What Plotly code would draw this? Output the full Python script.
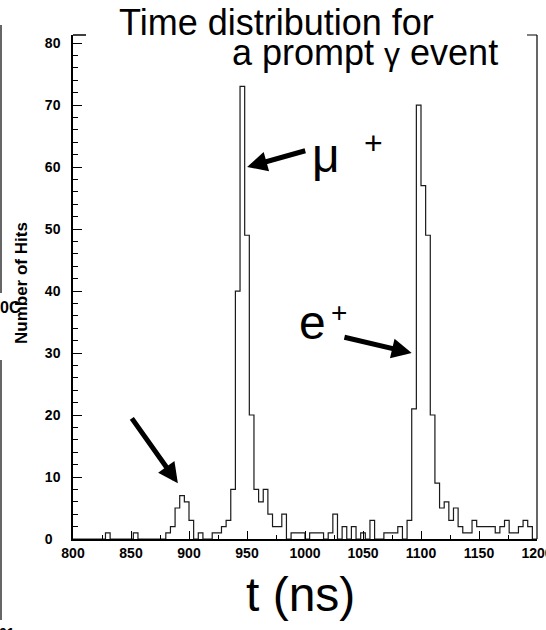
import plotly.graph_objects as go

# ---- data: histogram of hit times (4 ns bins, 800-1200 ns) ----
bin_lo = list(range(800, 1200, 4))
counts = [
    0, 0, 0, 0, 0, 0, 0, 1, 0, 0,      # 800-836
    0, 0, 0, 1, 0, 0, 0, 0, 0, 0,      # 840-876
    1, 2, 5, 7, 6, 3, 0, 1, 0, 0,      # 880-916
    1, 1, 2, 3, 8, 40, 73, 49, 20, 8,  # 920-956
    6, 8, 4, 2, 2, 4, 0, 1, 1, 1,      # 960-996
    0, 1, 1, 1, 0, 1, 4, 0, 2, 0,      # 1000-1036
    2, 0, 1, 0, 3, 0, 0, 1, 1, 1,      # 1040-1076
    2, 0, 3, 21, 70, 57, 49, 20, 9, 5, # 1080-1116
    6, 3, 5, 2, 1, 1, 3, 2, 2, 2,      # 1120-1156
    2, 1, 2, 3, 1, 1, 2, 3, 2, 0,      # 1160-1196
]
x_ticks = list(range(800, 1201, 50))
x_ticktext = [str(v) for v in x_ticks]
y_ticks = list(range(0, 81, 10))
y_ticktext = ["0\u2007"] + [str(v) for v in y_ticks[1:]]

edges = bin_lo + [1200]
step_y = counts + [counts[-1]]

FONT = "Liberation Sans, Arial, Helvetica, sans-serif"

fig = go.Figure()
fig.add_trace(go.Scatter(
    x=edges, y=step_y, mode="lines", line=dict(shape="hv", color="#1a1a1a", width=1.2),
    hoverinfo="skip"))

L, R, T, B = 73, 9, 35, 91
W, H = 546, 630
PW, PH = W - L - R, H - T - B


def px(x):
    return (x - L) / PW


def py(y):
    return (H - B - y) / PH


fig.update_layout(
    width=W, height=H, margin=dict(l=L, r=R, t=T, b=B, pad=0, autoexpand=False),
    plot_bgcolor="white", paper_bgcolor="white", showlegend=False,
    xaxis=dict(range=[800, 1200], tickvals=x_ticks, ticktext=x_ticktext, automargin=False,
               ticks="inside", ticklen=8, tickwidth=1, tickcolor="black",
               showline=True, linewidth=2, linecolor="black", showgrid=False, zeroline=False,
               ticklabeloverflow="allow",
               tickfont=dict(family=FONT, size=14, color="black", weight="bold"),
               minor=dict(dtick=25, tick0=800, ticks="inside", ticklen=4, tickcolor="black",
                          showgrid=False)),
    yaxis=dict(range=[0, 81.3], tickvals=y_ticks, ticktext=y_ticktext, automargin=False,
               ticks="inside", ticklen=9, tickwidth=1, tickcolor="black",
               showline=True, linewidth=1.5, linecolor="black", showgrid=False, zeroline=False,
               ticklabelstandoff=8,
               tickfont=dict(family=FONT, size=14, color="black", weight="bold"),
               minor=dict(dtick=2, ticks="inside", ticklen=5, tickcolor="black", showgrid=False)),
)

shapes = [
    # right frame line and small top brackets
    dict(type="line", xref="paper", yref="paper", x0=1, x1=1, y0=0, y1=1,
         line=dict(color="black", width=1.2)),
    dict(type="line", xref="paper", yref="paper", x0=px(527), x1=1, y0=1, y1=1,
         line=dict(color="black", width=1)),
    dict(type="line", xref="paper", yref="paper", x0=0, x1=px(86), y0=1, y1=1,
         line=dict(color="black", width=1.5)),
    # remnants at the far left edge
    dict(type="line", xref="paper", yref="paper", x0=px(1), x1=px(1), y0=py(25), y1=py(293),
         line=dict(color="#333", width=1.5)),
    dict(type="line", xref="paper", yref="paper", x0=px(1), x1=px(1), y0=py(360), y1=py(620),
         line=dict(color="#333", width=1.5)),
]
fig.update_layout(shapes=shapes)

ann = []
# title
ann.append(dict(xref="paper", yref="paper", x=px(117), y=py(22), xanchor="left", yanchor="middle",
                text="Time distribution for", showarrow=False,
                font=dict(family=FONT, size=36, color="black")))
ann.append(dict(xref="paper", yref="paper", x=px(230), y=py(53), xanchor="left", yanchor="middle",
                text="a prompt <span style='font-size:32px'>γ</span> event", showarrow=False,
                font=dict(family=FONT, size=36, color="black")))
# axis titles
ann.append(dict(xref="paper", yref="paper", x=px(300), y=py(594), xanchor="center", yanchor="middle",
                text="t (ns)", showarrow=False, font=dict(family=FONT, size=48, color="black")))
ann.append(dict(xref="paper", yref="paper", x=px(21), y=py(283), xanchor="center", yanchor="middle",
                text="Number of Hits", textangle=-90, showarrow=False,
                font=dict(family=FONT, size=17, color="black", weight="bold")))
ann.append(dict(xref="paper", yref="paper", x=px(-2), y=py(307), xanchor="left", yanchor="middle",
                text="0C", showarrow=False, font=dict(family=FONT, size=16, color="black", weight="bold")))
ann.append(dict(xref="paper", yref="paper", x=px(-3), y=py(633), xanchor="left", yanchor="middle",
                text="01", showarrow=False, font=dict(family=FONT, size=14, color="black", weight="bold")))
# particle labels
ann.append(dict(xref="paper", yref="paper", x=px(326), y=py(155), xanchor="center", yanchor="middle",
                text="μ", showarrow=False, font=dict(family=FONT, size=48, color="black")))
ann.append(dict(xref="paper", yref="paper", x=px(373), y=py(143), xanchor="center", yanchor="middle",
                text="+", showarrow=False, font=dict(family=FONT, size=32, color="black")))
ann.append(dict(xref="paper", yref="paper", x=px(312), y=py(322), xanchor="center", yanchor="middle",
                text="e", showarrow=False, font=dict(family=FONT, size=48, color="black")))
ann.append(dict(xref="paper", yref="paper", x=px(339), y=py(312), xanchor="center", yanchor="middle",
                text="+", showarrow=False, font=dict(family=FONT, size=28, color="black")))
# arrows (tip, tail) in data coordinates
arrows = [((950.1, 60.0), (1001.5, 62.7)),
          ((1092.0, 30.0), (1032.7, 32.6)),
          ((890.4, 9.0), (849.8, 19.7))]
for (tx, ty), (sx, sy) in arrows:
    ann.append(dict(x=tx, y=ty, ax=sx, ay=sy, xref="x", yref="y", axref="x", ayref="y",
                    text="", showarrow=True, arrowhead=2, arrowsize=0.8, arrowwidth=5,
                    arrowcolor="black", standoff=0, startstandoff=0))
fig.update_layout(annotations=ann)

fig.write_html("out.html")
